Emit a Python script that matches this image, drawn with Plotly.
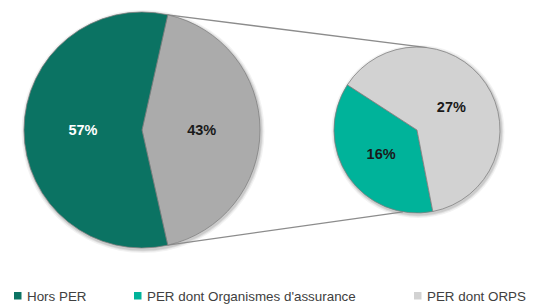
import math
import plotly.graph_objects as go

# ---- data ----
main_labels = ["PER", "Hors PER"]
main_values = [43, 57]
sub_labels = ["PER dont Organismes d'assurance", "PER dont ORPS"]
sub_values = [16, 27]
legend_labels = ["Hors PER", "PER dont Organismes d'assurance", "PER dont ORPS"]

# ---- styles ----
C_HORS = "#0B7363"
C_PER = "#ABABAB"
C_ASS = "#00B39A"
C_ORPS = "#D2D2D2"
W, H = 542, 304

# pie geometry in pixels
M_CX, M_CY, M_R = 142, 130, 118
S_CX, S_CY, S_R = 417, 130, 83


def px_x(x):
    return x / W


def px_y(y):
    return 1 - y / H


def domain(cx, cy, r):
    return dict(x=[px_x(cx - r), px_x(cx + r)], y=[px_y(cy + r), px_y(cy - r)])


total_main = sum(main_values)
per_deg = main_values[0] / total_main * 360
main_rot = 90 - per_deg / 2
sub_rot = 169

LABEL_FONT = "Liberation Sans, Arial, sans-serif"

fig = go.Figure()
fig.add_trace(go.Pie(
    labels=main_labels, values=main_values, sort=False, direction="clockwise",
    rotation=main_rot, domain=domain(M_CX, M_CY, M_R),
    marker=dict(colors=[C_PER, C_HORS], line=dict(color="rgba(125,125,125,0.75)", width=1)),
    texttemplate="%{value}%", textposition="inside", insidetextorientation="horizontal",
    textfont=dict(family=LABEL_FONT, size=14.5, weight="bold", color=["#1a1a1a", "white"]),
    showlegend=False, hoverinfo="label+value",
))
fig.add_trace(go.Pie(
    labels=sub_labels, values=sub_values, sort=False, direction="clockwise",
    rotation=sub_rot, domain=domain(S_CX, S_CY, S_R),
    marker=dict(colors=[C_ASS, C_ORPS], line=dict(color="rgba(125,125,125,0.75)", width=1)),
    texttemplate="%{value}%", textposition="inside", insidetextorientation="horizontal",
    textfont=dict(family=LABEL_FONT, size=14.5, weight="bold", color=["#1a1a1a", "#1a1a1a"]),
    showlegend=False, hoverinfo="label+value",
))


def pt(cx, cy, r, ang):
    a = math.radians(ang)
    return cx + r * math.sin(a), cy - r * math.cos(a)


shapes = []
# soft shadows behind pies
for cx, cy, r in [(M_CX, M_CY, M_R), (S_CX, S_CY, S_R)]:
    for grow, alpha in [(3.5, 0.05), (2.2, 0.07), (1.2, 0.09)]:
        shapes.append(dict(type="circle", xref="paper", yref="paper", layer="below",
                           x0=px_x(cx - r - grow + 1), x1=px_x(cx + r + grow + 1),
                           y0=px_y(cy + r + grow + 1.5), y1=px_y(cy - r - grow + 1.5),
                           fillcolor=f"rgba(0,0,0,{alpha})", line=dict(width=0)))

for a_main, a_sub in [(main_rot, 7), (main_rot + per_deg, 189.7)]:
    x0, y0 = pt(M_CX, M_CY, M_R, a_main)
    x1, y1 = pt(S_CX, S_CY, S_R, a_sub)
    shapes.append(dict(type="line", xref="paper", yref="paper",
                       x0=px_x(x0), y0=px_y(y0), x1=px_x(x1), y1=px_y(y1),
                       line=dict(color="#8c8c8c", width=1.3), layer="below"))

# legend (manual)
leg_x = [14, 134, 414]
leg_colors = [C_HORS, C_ASS, C_ORPS]
annotations = []
for lx, lab, col in zip(leg_x, legend_labels, leg_colors):
    shapes.append(dict(type="rect", xref="paper", yref="paper",
                       x0=px_x(lx), x1=px_x(lx + 7.5), y0=px_y(299.5), y1=px_y(292),
                       fillcolor=col, line=dict(width=0)))
    annotations.append(dict(x=px_x(lx + 11), y=px_y(296), xref="paper", yref="paper",
                            text=lab, showarrow=False, xanchor="left", yanchor="middle",
                            font=dict(family="Liberation Sans Narrow, Arial Narrow, sans-serif",
                                      size=13.4, color="#404040")))

fig.update_layout(
    width=W, height=H, margin=dict(l=0, r=0, t=0, b=0),
    paper_bgcolor="white", plot_bgcolor="white",
    shapes=shapes, annotations=annotations,
)
fig.write_html("out.html", config={"displayModeBar": False},
               post_script="document.body.style.margin='0';document.body.style.overflow='hidden';")
